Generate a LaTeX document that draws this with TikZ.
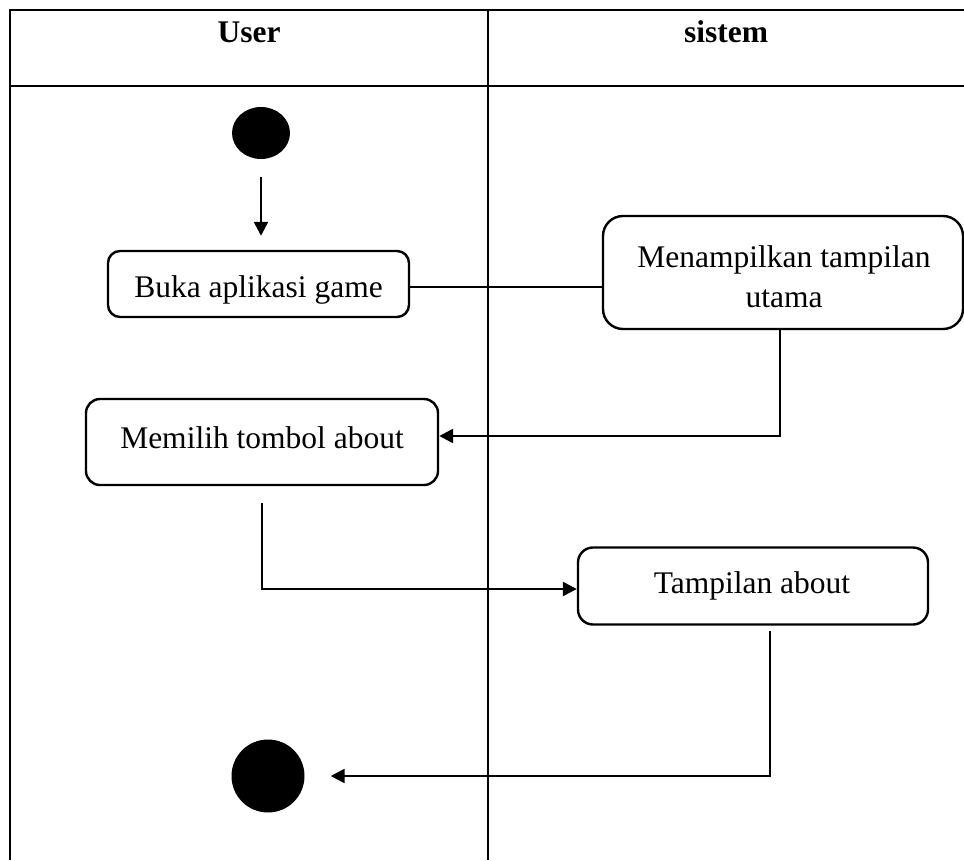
\documentclass[tikz,border=0pt]{standalone}
\usepackage{fontspec}
\setmainfont{Liberation Serif}
\usetikzlibrary{arrows.meta,shapes.geometric}
\tikzset{
  grid/.style={line width=2.5pt},
  act/.style={draw, line width=2.4pt, inner sep=0pt, rectangle},
  lbl/.style={font=\fontsize{31.5}{40}\selectfont, align=center, inner sep=0pt},
  head/.style={font=\fontsize{31.5}{38}\selectfont\bfseries, inner sep=0pt},
  dot/.style={fill=black, draw=none, inner sep=0pt},
  flow/.style={line width=2.4pt},
  arr/.style={flow, -{Triangle[length=14pt,width=14pt]}}
}
\begin{document}
\begin{tikzpicture}[x=1pt,y=-1pt]
\useasboundingbox (0,0) rectangle (964,860);
% swimlane table
\draw[grid] (10,860) -- (10,10) -- (968,10);
\draw[grid] (10,86) -- (968,86);
\draw[grid] (488,10) -- (488,860);
\node[head] (hUser) at (249,32) {User};
\node[head] (hSistem) at (726,32) {sistem};

% start and end states
\node[dot, ellipse, minimum width=58pt, minimum height=52pt] (start) at (261,133) {};
\node[dot, circle, minimum size=73pt] (end) at (268,776) {};

% activities
\node[act, rounded corners=12pt, minimum width=301pt, minimum height=66pt] (buka) at (258.5,284) {};
\node[lbl] (bukaT) at (258.5,290) {Buka aplikasi game};

\node[act, rounded corners=20pt, minimum width=360pt, minimum height=113pt] (tampil) at (783,272.5) {};
\node[lbl] (tampilT) at (784,277) {Menampilkan tampilan\\utama};

\node[act, rounded corners=14pt, minimum width=352pt, minimum height=86pt] (pilih) at (262,442) {};
\node[lbl] (pilihT) at (262,438) {Memilih tombol about};

\node[act, rounded corners=15pt, minimum width=350pt, minimum height=77pt] (about) at (753,586) {};
\node[lbl] (aboutT) at (752,586) {Tampilan about};

% free ends of the transitions
\coordinate (startOut) at ([yshift=-18pt]start.south);
\coordinate (bukaIn) at ([yshift=14pt]buka.north);

% transitions
\draw[arr] (startOut) -- (startOut |- bukaIn);
\draw[flow] ([yshift=-3pt]buka.east) -- ([yshift=-3pt]buka.east -| tampil.west);
\draw[arr] ([xshift=-3pt]tampil.south) |- ([yshift=6pt]pilih.east);
\draw[arr] ([yshift=-17pt]pilih.south) |- ([yshift=-3pt]about.west);
\draw[arr] ([xshift=17pt,yshift=-5pt]about.south) |- ([xshift=26pt]end.east);
\end{tikzpicture}
\end{document}
